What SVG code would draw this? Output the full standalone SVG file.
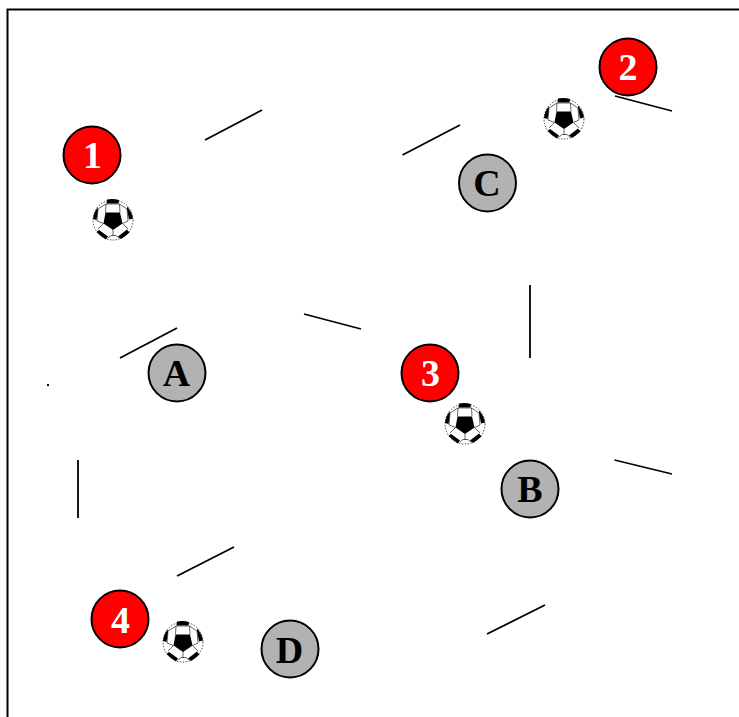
<svg xmlns="http://www.w3.org/2000/svg" width="739" height="717" viewBox="0 0 739 717">
<style>
.frame{fill:none;stroke:#000;stroke-width:2}
.seg{stroke:#000;stroke-width:1.800;fill:none}
.p{fill:#f00;stroke:#000;stroke-width:2}
.o{fill:#b2b2b2;stroke:#000;stroke-width:2}
.pt{fill:#fff;font:bold 38px "Liberation Serif",serif;text-anchor:middle}
.ot{fill:#000;font:bold 38px "Liberation Serif",serif;text-anchor:middle}
.ball-edge{fill:#fff;stroke:#000;stroke-width:.7;stroke-dasharray:1.500 1.500}
.ball-line{stroke:#000;stroke-width:.6;fill:none}
</style>
<defs>
<g id="ball">
<circle class="ball-edge" r="20"/>
<path d="M-7.500-7.500H7L9.500 3.500 0 10-9.500 3.500Z" fill="#000"/>
<path class="ball-line" d="M-7.500-7.500-7-16H6.500L7-7.500M9.500 3.500 15 9M-9.500 3.500-15 9M0 10V16M-7-16-15-11-16 1-9.500 3.500M6.500-16 14-11 15 1 9.500 3.500M-5 18-2 15.500H3L6 18"/>
<path d="M-6-20.500Q0-21.500 6-20L5.500-16.500H-6.500ZM14-13.500Q19-8 20-1.500L16-.5 14-11ZM-15.500-12.500Q-19.500-7-20-1L-16.500 0-15-10ZM5 16.500 14 9.500 16.500 12.500Q12 16.500 8 19ZM-5 16.500-14 10-16.500 12Q-12 16.500-7 19.500Z" fill="#000"/>
</g>
</defs>
<path class="frame" d="M7.500 717V9.500H739"/>
<g id="connectors">
<line class="seg" x1="205" y1="140" x2="262" y2="110"/>
<line class="seg" x1="402.500" y1="155" x2="460" y2="125"/>
<line class="seg" x1="615" y1="96" x2="672" y2="111"/>
<line class="seg" x1="530" y1="285" x2="530" y2="358"/>
<line class="seg" x1="304" y1="314" x2="361" y2="329"/>
<line class="seg" x1="120" y1="358" x2="177" y2="328"/>
<line class="seg" x1="614.500" y1="460" x2="672" y2="474"/>
<line class="seg" x1="78" y1="460" x2="78" y2="518"/>
<line class="seg" x1="177" y1="576" x2="234" y2="547"/>
<line class="seg" x1="487" y1="634" x2="545" y2="605"/>
<rect x="47" y="384" width="2" height="2" fill="#000"/>
</g>
<g id="player-1"><circle class="p" cx="92" cy="155" r="28.500"/><text class="pt" x="92.500" y="168">1</text></g>
<g id="player-2"><circle class="p" cx="628" cy="67" r="28.500"/><text class="pt" x="628" y="80">2</text></g>
<g id="player-3"><circle class="p" cx="430" cy="373" r="28.500"/><text class="pt" x="430.500" y="386">3</text></g>
<g id="player-4"><circle class="p" cx="120" cy="619" r="28.500"/><text class="pt" x="120.500" y="633">4</text></g>
<g id="opponent-a"><circle class="o" cx="177" cy="373" r="28.500"/><text class="ot" x="176.500" y="386">A</text></g>
<g id="opponent-b"><circle class="o" cx="530" cy="489" r="28.500"/><text class="ot" x="530" y="502">B</text></g>
<g id="opponent-c"><circle class="o" cx="487.500" cy="183" r="28.500"/><text class="ot" x="487" y="196">C</text></g>
<g id="opponent-d"><circle class="o" cx="290" cy="649" r="28.500"/><text class="ot" x="289.500" y="663">D</text></g>
<g id="ball-1"><use href="#ball" x="113" y="220"/></g>
<g id="ball-2"><use href="#ball" x="564" y="119"/></g>
<g id="ball-3"><use href="#ball" x="465" y="424"/></g>
<g id="ball-4"><use href="#ball" x="183" y="642"/></g>
</svg>
